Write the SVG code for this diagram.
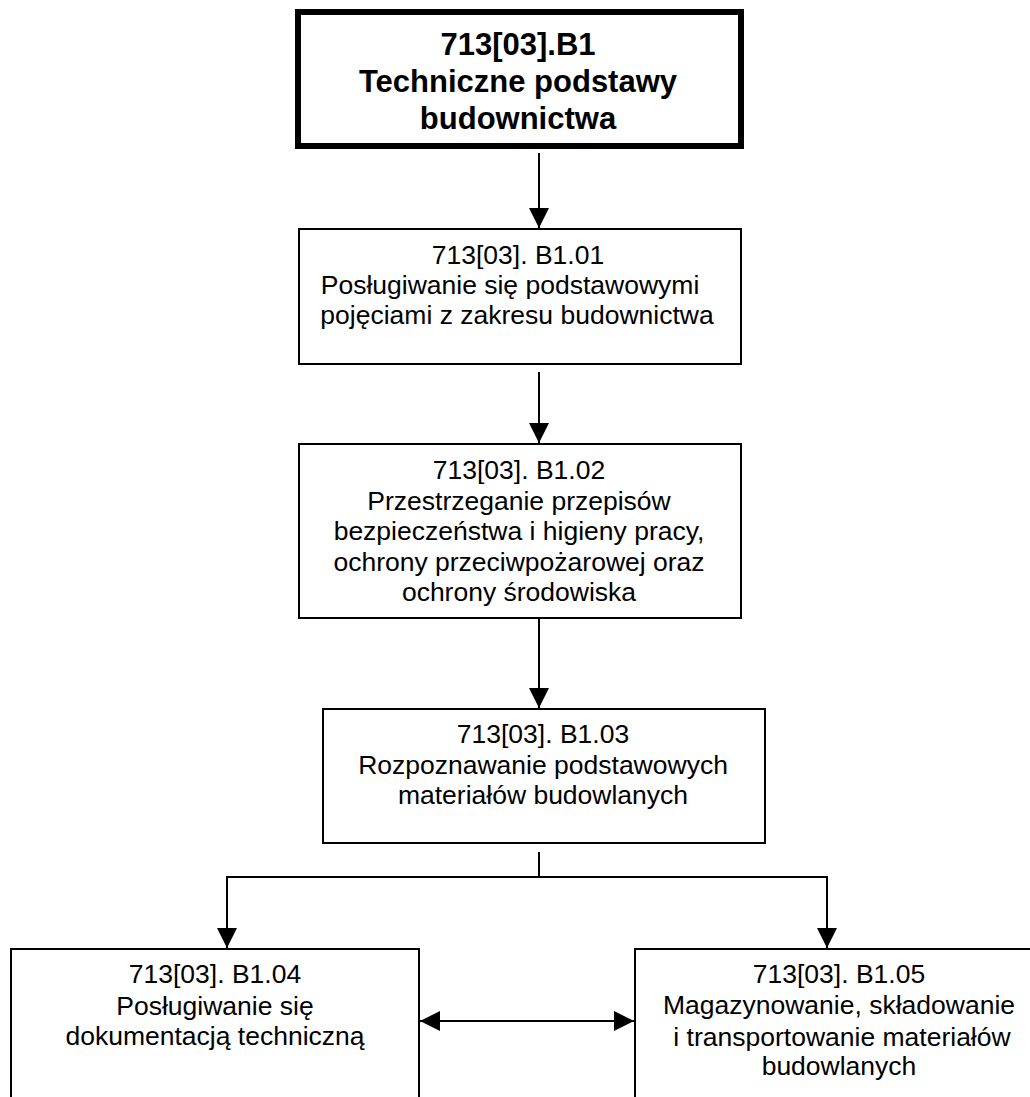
<svg xmlns="http://www.w3.org/2000/svg" width="1030" height="1097" viewBox="0 0 1030 1097">
<defs>
<style>
.box{fill:#fff;stroke:#000;stroke-width:2}
.main{fill:#fff;stroke:#000;stroke-width:6}
.t{font-family:"Liberation Sans",Arial,sans-serif;font-size:26.5px;fill:#000;text-anchor:middle}
.tb{font-family:"Liberation Sans",Arial,sans-serif;font-size:31px;font-weight:bold;fill:#000;text-anchor:middle}
.c{fill:none;stroke:#000;stroke-width:2}
</style>
<marker id="ah" markerWidth="20" markerHeight="20" viewBox="0 0 20 20" refX="20" refY="10" markerUnits="userSpaceOnUse" orient="auto-start-reverse">
<path d="M0,0 L20,10 L0,20 Z" fill="#000"/>
</marker>
</defs>
<rect width="1030" height="1097" fill="#fff"/>
<g id="connectors">
<line class="c" x1="539" y1="153" x2="539" y2="228" marker-end="url(#ah)"/>
<line class="c" x1="539" y1="372" x2="539" y2="443" marker-end="url(#ah)"/>
<line class="c" x1="539" y1="612" x2="539" y2="708" marker-end="url(#ah)"/>
<polyline class="c" points="539,852 539,877"/>
<polyline class="c" points="227,877 827,877"/>
<line class="c" x1="227" y1="876" x2="227" y2="948" marker-end="url(#ah)"/>
<line class="c" x1="827" y1="876" x2="827" y2="948" marker-end="url(#ah)"/>
<line class="c" x1="420" y1="1021" x2="634" y2="1021" marker-start="url(#ah)" marker-end="url(#ah)"/>
</g>
<g id="node-b1">
<rect class="main" x="298" y="12" width="443" height="134"/>
<text class="tb" x="518" y="55">713[03].B1</text>
<text class="tb" x="518" y="92">Techniczne podstawy</text>
<text class="tb" x="518" y="129">budownictwa</text>
</g>
<g id="node-b101">
<rect class="box" x="299" y="229" width="442" height="135"/>
<text class="t" x="518" y="264">713[03]. B1.01</text>
<text class="t" x="510" y="294">Posługiwanie się podstawowymi</text>
<text class="t" x="517" y="324">pojęciami z zakresu budownictwa</text>
</g>
<g id="node-b102">
<rect class="box" x="299" y="444" width="442" height="174"/>
<text class="t" x="519" y="479">713[03]. B1.02</text>
<text class="t" x="519" y="510">Przestrzeganie przepisów</text>
<text class="t" x="519" y="540">bezpieczeństwa i higieny pracy,</text>
<text class="t" x="519" y="571">ochrony przeciwpożarowej oraz</text>
<text class="t" x="519" y="601">ochrony środowiska</text>
</g>
<g id="node-b103">
<rect class="box" x="323" y="709" width="442" height="134"/>
<text class="t" x="543" y="743">713[03]. B1.03</text>
<text class="t" x="543" y="774">Rozpoznawanie podstawowych</text>
<text class="t" x="543" y="804">materiałów budowlanych</text>
</g>
<g id="node-b104">
<rect class="box" x="11" y="949" width="408" height="200"/>
<text class="t" x="215" y="983">713[03]. B1.04</text>
<text class="t" x="215" y="1015">Posługiwanie się</text>
<text class="t" x="215" y="1045">dokumentacją techniczną</text>
</g>
<g id="node-b105">
<rect class="box" x="635" y="949" width="410" height="200"/>
<text class="t" x="839" y="983">713[03]. B1.05</text>
<text class="t" x="839" y="1014">Magazynowanie, składowanie</text>
<text class="t" x="842" y="1046">i transportowanie materiałów</text>
<text class="t" x="839" y="1075">budowlanych</text>
</g>
</svg>
